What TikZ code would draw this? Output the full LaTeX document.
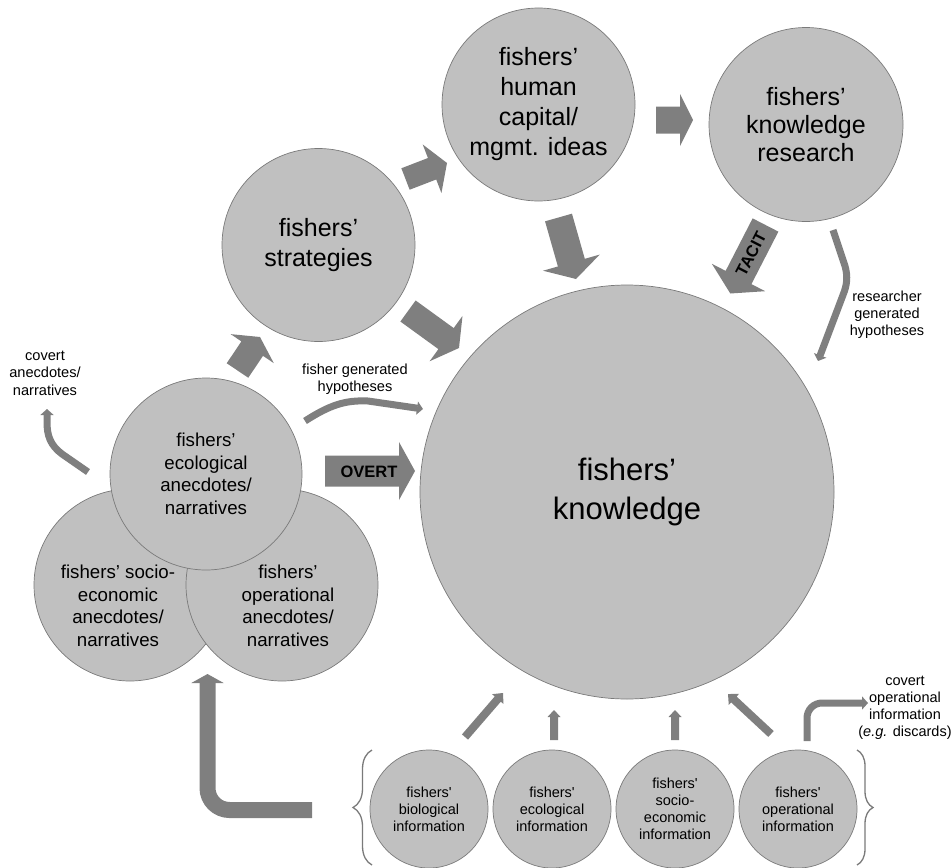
\documentclass[tikz,border=0pt]{standalone}
\usepackage{fontspec}
\setmainfont{Liberation Sans}
\usetikzlibrary{calc,decorations.pathreplacing,arrows.meta}
\definecolor{cfill}{HTML}{C0C0C0}
\definecolor{cline}{HTML}{7A7A7A}
\definecolor{carrow}{HTML}{7F7F7F}
\newcommand\fsz[2]{\fontsize{#1}{#2}\selectfont}
% block arrow: tail, tip, shaft half width, head half width, head length
\newcommand\blockarr[5]{%
  \coordinate (ba-c) at ($(#2)!#5!(#1)$);
  \fill[carrow] ($(#1)!#3!90:(#2)$) -- ($(ba-c)!#3!90:(#2)$) -- ($(ba-c)!#4!90:(#2)$) -- (#2)
    -- ($(ba-c)!#4!-90:(#2)$) -- ($(ba-c)!#3!-90:(#2)$) -- ($(#1)!#3!-90:(#2)$) -- cycle;
}
\tikzset{
  circ/.style={circle, draw=cline, line width=0.7pt, fill=cfill, inner sep=0pt, align=center, text=black},
  lbl/.style={align=center, text=black, inner sep=0pt, font=\fsz{14.6}{17.5}},
  thinarrow/.style={draw=carrow, line width=7pt, -{Triangle[length=6pt,width=13pt]}},
  bracestyle/.style={draw=cline, line width=1.3pt, decorate},
  boldlbl/.style={font=\bfseries\fsz{16.5}{18}, text=black, inner sep=0pt}
}
\begin{document}
\begin{tikzpicture}[x=1pt,y=-1pt]
\useasboundingbox (0,0) rectangle (952,867);

% main circles
\node[circ, minimum size=414pt, font=\fsz{31}{39}] (fk) at (627,492) {fishers’\\knowledge};
\node[circ, minimum size=193pt, font=\fsz{25}{30}] (strat) at (318.5,245) {fishers’\\strategies};
\node[circ, minimum size=193pt, font=\fsz{25}{30}] (hc) at (538.5,104.5) {fishers’\\human\\capital/\\mgmt. ideas};
\node[circ, minimum size=194pt, font=\fsz{25}{28}] (fkr) at (806,124.5) {fishers’\\knowledge\\research};

% anecdote cluster
\node[circ, minimum size=192pt] (socA) at (130,585) {};
\node[circ, minimum size=192pt] (opA) at (282,585) {};
\node[circ, minimum size=192pt, font=\fsz{18.7}{22.5}] (ecoA) at (206,474) {fishers’\\ecological\\anecdotes/\\narratives};
\node[align=center, inner sep=0pt, font=\fsz{18.7}{22.5}] (socAt) at (118,606) {fishers’ socio-\\economic\\anecdotes/\\narratives};
\node[align=center, inner sep=0pt, font=\fsz{18.7}{22.5}] (opAt) at (288,606) {fishers’\\operational\\anecdotes/\\narratives};

% information circles
\node[circ, minimum size=118pt, font=\fsz{14.5}{17}] (bio) at (429,809) {fishers\textquotesingle\\biological\\information};
\node[circ, minimum size=118pt, font=\fsz{14.5}{17}] (ecoI) at (552,809) {fishers\textquotesingle\\ecological\\information};
\node[circ, minimum size=118pt, font=\fsz{14.5}{17}] (socI) at (675,809) {fishers\textquotesingle\\socio-\\economic\\information};
\node[circ, minimum size=118pt, font=\fsz{14.5}{17}] (opI) at (798,809) {fishers\textquotesingle\\operational\\information};

% braces
\draw[bracestyle, decoration={brace, amplitude=19pt}] (372,865) -- (372,750);
\draw[bracestyle, decoration={brace, amplitude=16pt}] (857,750) -- (857,865);

% block arrow end points
\coordinate (a1t) at (405.5,179); \coordinate (a1h) at (447,163);
\coordinate (a2t) at (408,311);   \coordinate (a2h) at (459,348);
\coordinate (a3t) at (558.5,217.5); \coordinate (a3h) at (576,279);
\coordinate (a4t) at (656,120);   \coordinate (a4h) at (693,120);
\coordinate (a5t) at (765.5,225); \coordinate (a5h) at (730.3,293.5);
\coordinate (a6t) at (325,471);   \coordinate (a6h) at (415,471);
\coordinate (a7t) at (237.5,370.5); \coordinate (a7h) at (260,337);
\coordinate (b1t) at (465,737);   \coordinate (b1h) at (503,693);
\coordinate (b2t) at (554,740);   \coordinate (b2h) at (554,710);
\coordinate (b3t) at (675,740);   \coordinate (b3h) at (675,710);
\coordinate (b4t) at (771,734);   \coordinate (b4h) at (728,694);

\blockarr{a1t}{a1h}{11.5pt}{26pt}{16pt}
\blockarr{a2t}{a2h}{13pt}{28pt}{16pt}
\blockarr{a3t}{a3h}{14pt}{29.5pt}{17pt}
\blockarr{a4t}{a4h}{13.5pt}{26pt}{13pt}
\blockarr{a5t}{a5h}{14.5pt}{30pt}{18pt}
\blockarr{a6t}{a6h}{15.5pt}{29pt}{16pt}
\blockarr{a7t}{a7h}{13pt}{26pt}{14pt}
\blockarr{b1t}{b1h}{4pt}{7.5pt}{8pt}
\blockarr{b2t}{b2h}{4pt}{6.5pt}{7pt}
\blockarr{b3t}{b3h}{4pt}{6.5pt}{7pt}
\blockarr{b4t}{b4h}{4pt}{7.5pt}{8pt}

\node[boldlbl, rotate=62.8] (tacit) at (751,254) {TACIT};
\node[boldlbl] (overt) at (369,472) {OVERT};

% thin curved arrows
\coordinate (fg0) at (305,421); \coordinate (fg1) at (423,409);
\draw[thinarrow] (fg0) .. controls (330,405) and (345,400) .. (368,401) -- (fg1);
\coordinate (ca0) at (88,472); \coordinate (ca1) at (47,409);
\draw[thinarrow] (ca0) -- (62,454) .. controls (50,445) and (47,435) .. (47,422) -- (ca1);
\coordinate (rg0) at (833,230); \coordinate (rg1) at (818,361);
\draw[thinarrow] (rg0) -- (845,266) .. controls (848,277) and (847,285) .. (843,295) -- (rg1);
\coordinate (co0) at (807,741); \coordinate (co1) at (868,703);
\draw[thinarrow, rounded corners=15pt] (co0) -- (807,703) -- (co1);

% large L arrow
\coordinate (L0) at (312,810); \coordinate (L1) at (207.5,674);
\draw[draw=carrow, line width=16pt, rounded corners=22pt, -{Triangle[length=9pt,width=32pt]}] (L0) -- (207.5,810) -- (L1);

% labels
\node[lbl] (fgl) at (355,379) {fisher generated\\hypotheses};
\node[lbl] (cal) at (45,373) {covert\\anecdotes/\\narratives};
\node[lbl, font=\fsz{14.5}{17}] (rgl) at (887,315) {researcher\\generated\\hypotheses};
\node[lbl, font=\fsz{14.5}{17}] (col) at (905,708) {covert\\operational\\information\\(\textit{e.g.} discards)};
\end{tikzpicture}
\end{document}
